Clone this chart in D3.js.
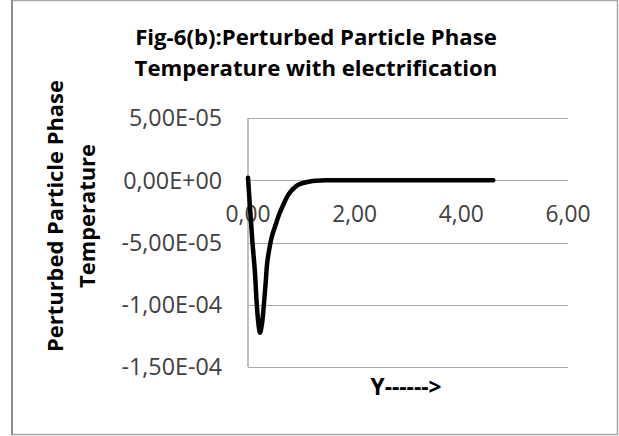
<!DOCTYPE html>
<html>
<head>
<meta charset="utf-8">
<script src="https://cdn.jsdelivr.net/npm/d3@7"></script>
<style>
  html, body { margin: 0; padding: 0; background: #fff; }
  svg { display: block; font-family: "Open Sans", Lato, sans-serif; }
</style>
</head>
<body>
<svg id="chart" width="619" height="436"></svg>
<script>
  // values (temperature in units of 1E-5)
  const yPos = [0, 0.08, 0.131, 0.163, 0.195, 0.225, 0.26, 0.30, 0.33, 0.356, 0.381, 0.426, 0.456, 0.519, 0.581, 0.662, 0.756, 0.85, 0.943, 1.16, 1.5, 2, 2.5, 3, 3.5, 4, 4.6];
  const temp = [0.2, -4.78, -7.46, -9.87, -11.5, -12.25, -11.6, -9.87, -8.3, -6.79, -5.99, -4.92, -4.38, -3.58, -2.77, -1.97, -1.17, -0.68, -0.36, -0.1, 0, 0, 0, 0, 0, 0, 0];
  const xTicks = [0, 2, 4, 6];
  const yTicks = [5e-5, 0, -5e-5, -1e-4, -1.5e-4];
  const titleLines = ["Fig-6(b):Perturbed Particle Phase", "Temperature with electrification"];
  const yTitleLines = ["Perturbed Particle Phase", "Temperature"];
  const xTitle = "Y------>";

  const svg = d3.select("#chart");

  // scale a group's font so that its first label gets the width seen in the picture
  function fitWidth(sel, base, target) {
    var w = sel.node().getComputedTextLength();
    sel.attr("font-size", base * target / w);
  }

  // chart frame
  svg.append("rect")
    .attr("x", 12).attr("y", 0.5)
    .attr("width", 605.5).attr("height", 434)
    .attr("fill", "none").attr("stroke", "#a6a6a6").attr("stroke-width", 1.5);
  svg.append("line")
    .attr("x1", 12).attr("x2", 12).attr("y1", 0).attr("y2", 435)
    .attr("stroke", "#8c8c8c").attr("stroke-width", 2);

  var x = d3.scaleLinear().domain([0, 6]).range([248, 568]);
  var y = d3.scaleLinear().domain([-1.5e-4, 5e-5]).range([367, 118]);

  const comma = d3.formatLocale({ decimal: ",", thousands: ".", grouping: [3], currency: ["", ""], minus: "-" });
  const fmtX = comma.format(".2f");
  function fmtY(v) {
    if (v === 0) return "0,00E+00";
    const e = Math.floor(Math.log10(Math.abs(v)) + 1e-9);
    const m = v / Math.pow(10, e);
    const ee = (e < 0 ? "-" : "+") + String(Math.abs(e)).padStart(2, "0");
    return fmtX(m) + "E" + ee;
  }

  // gridlines
  svg.append("g")
    .selectAll("line")
    .data(yTicks)
    .enter().append("line")
      .attr("x1", x(0)).attr("x2", x(6))
      .attr("y1", d => Math.round(y(d)) + 0.5).attr("y2", d => Math.round(y(d)) + 0.5)
      .attr("stroke", "#ababab").attr("stroke-width", 1.2);

  // vertical axis line
  svg.append("line")
    .attr("x1", x(0)).attr("x2", x(0))
    .attr("y1", y(5e-5)).attr("y2", y(-1.5e-4))
    .attr("stroke", "#ababab").attr("stroke-width", 1.5);

  // y tick labels
  var yLabels = svg.append("g")
    .selectAll("text")
    .data(yTicks)
    .enter().append("text")
      .attr("x", 222).attr("y", d => y(d))
      .attr("dy", "0.36em")
      .attr("text-anchor", "end")
      .attr("font-size", 20)
      .attr("fill", "#404040")
      .text(fmtY);
  fitWidth(yLabels, 20, 93);

  // x tick labels, sitting under the zero line
  var xLabels = svg.append("g")
    .selectAll("text")
    .data(xTicks)
    .enter().append("text")
      .attr("x", d => x(d)).attr("y", y(0) + 34)
      .attr("dy", "0.36em")
      .attr("text-anchor", "middle")
      .attr("font-size", 20)
      .attr("fill", "#404040")
      .text(fmtX);
  fitWidth(xLabels, 20, 45);

  // the curve
  const line = d3.line()
    .x((d, i) => x(yPos[i]))
    .y(d => y(d * 1e-5))
    .curve(d3.curveCatmullRom.alpha(0.5));
  svg.append("path")
    .datum(temp)
    .attr("d", line)
    .attr("fill", "none")
    .attr("stroke", "#000")
    .attr("stroke-width", 4.5)
    .attr("stroke-linecap", "round")
    .attr("stroke-linejoin", "round");

  // titles
  var titles = svg.append("g")
    .selectAll("text")
    .data(titleLines)
    .enter().append("text")
      .attr("x", 316).attr("y", (d, i) => 37 + i * 31)
      .attr("dy", "0.36em")
      .attr("text-anchor", "middle")
      .attr("font-size", 21).attr("font-weight", "bold")
      .attr("fill", "#000")
      .text(d => d);
  fitWidth(titles, 21, 362);

  var yTitles = svg.append("g")
    .selectAll("text")
    .data(yTitleLines)
    .enter().append("text")
      .attr("transform", (d, i) => "translate(" + (55 + i * 32) + ",216) rotate(-90)")
      .attr("dy", "0.36em")
      .attr("text-anchor", "middle")
      .attr("font-size", 21).attr("font-weight", "bold")
      .attr("fill", "#000")
      .text(d => d);
  fitWidth(yTitles, 21, 272);

  var xt = svg.append("text")
    .attr("x", 406).attr("y", 387)
    .attr("dy", "0.36em")
    .attr("text-anchor", "middle")
    .attr("font-size", 18).attr("font-weight", "bold")
    .text(xTitle);
  fitWidth(xt, 18, 71);
</script>
</body>
</html>
